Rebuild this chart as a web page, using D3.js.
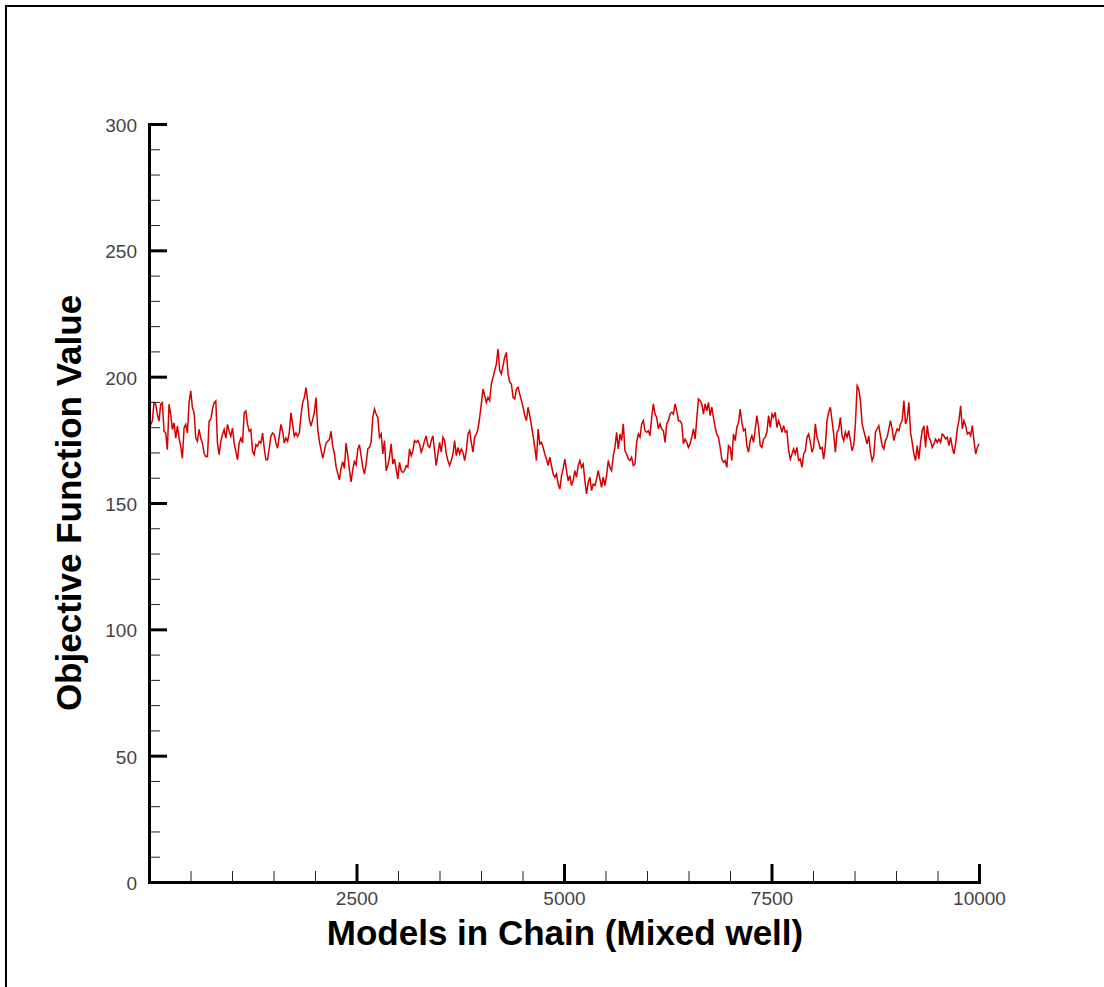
<!DOCTYPE html>
<html>
<head>
<meta charset="utf-8">
<script src="https://cdn.jsdelivr.net/npm/d3@7"></script>
<style>
  body { margin: 0; background: #fff; }
  svg { display: block; }
  .tick text { font-family: "Liberation Sans", Arial, sans-serif; font-size: 19px; fill: #444; }
  .axis-title { font-family: "Liberation Sans", Arial, sans-serif; font-size: 35px; font-weight: bold; fill: #000; }
</style>
</head>
<body>
<svg id="chart" width="1104" height="987"></svg>
<script>
// Chain length and axis ticks
const chainLength = 10000;
const xTickValues = [2500, 5000, 7500, 10000];
const yTickValues = [0, 50, 100, 150, 200, 250, 300];
const yDomain = [0, 300];

// Objective function value along the chain, sampled evenly (four stretches)
const objectiveFirst = [174.4,181.1,182.4,189.7,189.1,185.1,182.4,189.1,189.7,178.4,177.7,171.1,189.1,185.1,179.1,181.7,175.7,180.4,175.7,172.4,167.7,179.7,181.1,177.7,189.7,194.4,187.7,185.7,175.7,174.4,179.1,175.7,173.7,169.7,168.4,168.4,182.4,183.1,187.1,189.7,190.4,173.7,169.1,174.4,177.1,179.1,175.7,181.1,178.4,176.4,179.7,173.7,170.4,167.1,173.7,175.7,173.7,185.7,186.4,181.1,178.4,179.1,170.4,169.1,173.1,172.4,174.4,173.7,177.7,171.7,167.1,167.1,171.7,176.4,177.7,177.1,173.7,171.7,176.4,181.1,178.4,173.7,175.7,174.4,177.7,185.7,181.1,176.4,177.7,176.4,177.7,184.4,189.7,191.7,195.7,190.4,183.1,180.4,183.1,185.7,191.7,179.7,174.4,171.1,167.7,170.4,173.7,174.4,175.1,178.4,172.4,169.7,164.4,161.7,159.1,163.7,166.4,163.7,173.7,169.1,163.1,158.4,163.1,166.4,165.1,171.1,173.1];
const objectiveSecond = [168.7,164.1,161.5,165.4,171.4,172.0,174.0,183.9,187.2,185.2,183.9,176.0,177.3,169.4,174.7,162.8,164.8,168.1,173.4,165.4,167.4,163.5,159.5,166.1,162.8,162.1,162.8,164.8,164.1,171.4,168.7,170.7,174.7,174.0,174.7,173.4,170.1,172.0,174.7,176.6,172.7,172.0,174.7,176.6,170.7,164.8,169.4,174.0,170.1,176.0,174.7,169.4,166.8,164.8,166.8,169.4,174.7,168.7,172.0,169.4,171.4,170.1,166.8,170.7,177.3,178.6,174.0,170.1,176.0,177.3,179.3,183.9,189.2,195.1,192.5,189.8,191.8,190.5,197.1,199.7,202.4,205.0,210.9,202.4,201.1,204.4,207.7,209.6,201.1,197.8,197.1,191.8,191.2,195.1,195.8,193.1,190.5,187.9,184.6,182.6,187.9,184.6,180.6,176.6,172.0,166.8,179.3,173.4,174.0,172.0,169.4,167.4,164.8,168.1,164.8,161.5,160.2,161.5,157.5,155.5,160.8,163.5,167.4];
const objectiveThird = [162.8,158.8,160.8,156.9,158.8,162.8,160.2,164.8,166.8,164.1,165.4,158.8,153.6,158.2,160.2,154.9,157.5,156.9,159.5,162.8,159.5,156.2,160.2,156.9,160.8,166.8,164.1,162.8,168.7,172.0,178.0,171.4,177.3,174.7,181.3,170.7,169.4,167.4,166.8,168.1,164.8,165.4,174.0,177.3,176.0,181.3,182.6,178.6,178.0,178.6,176.6,183.9,189.2,185.2,183.9,179.3,181.3,179.3,178.6,174.0,181.3,182.6,185.2,185.9,185.2,189.2,186.5,182.6,182.6,181.3,173.4,175.3,174.0,172.0,173.4,176.0,179.3,175.3,183.2,191.2,190.5,189.2,185.2,189.2,186.5,189.8,184.6,187.9,183.9,179.9,177.3,176.0,172.0,167.4,166.1,166.8,164.1,172.7,172.0,166.8,177.3,174.7,179.9,181.9,187.2,181.9,178.6,179.3,172.7,170.1,174.7,176.6,174.0,179.3,184.6,179.9,172.7,172.0,175.3,176.0,178.0,184.6,179.9,185.2,183.9,185.9];
const objectiveFourth = [179.9,182.6,180.6,178.0,180.6,178.0,178.6,170.7,167.4,169.4,171.4,169.4,172.0,166.8,167.4,164.1,169.4,170.7,176.0,177.3,174.0,170.1,172.0,181.3,176.0,174.0,171.4,172.0,167.4,172.7,182.6,185.9,187.9,182.6,177.3,170.1,178.0,179.3,183.9,176.6,174.7,178.0,176.0,178.6,174.7,170.7,172.7,181.3,196.4,195.1,190.5,181.3,178.6,176.0,173.4,176.6,170.1,166.8,168.7,178.0,179.3,180.6,176.6,172.7,171.4,174.7,176.0,179.3,182.6,179.3,174.7,177.3,179.3,178.6,181.3,182.6,190.5,181.3,183.2,189.8,178.0,174.0,169.4,166.8,172.7,167.4,174.0,178.6,180.6,172.0,180.6,176.0,174.7,172.0,173.4,175.3,174.0,175.3,174.0,177.3,176.6,175.3,176.0,172.7,176.0,172.0,169.4,173.4,179.3,182.6,188.5,179.3,182.6,180.6,177.3,178.0,176.6,180.6,174.7,169.4,172.0,173.4];

const objective = [].concat(objectiveFirst, objectiveSecond, objectiveThird, objectiveFourth);
const modelIndex = objective.map((_, i) => i * chainLength / (objective.length - 1));

const svg = d3.select("#chart");

// outer frame of the page
svg.append("rect")
  .attr("x", 6).attr("y", 6)
  .attr("width", 1300).attr("height", 1200)
  .attr("fill", "none").attr("stroke", "#000").attr("stroke-width", 2);

const x = d3.scaleLinear().domain([0, chainLength]).range([149, 979]);
const y = d3.scaleLinear().domain(yDomain).range([882, 124]);

// trace of the chain
const line = d3.line()
  .x((d, i) => x(modelIndex[i]))
  .y(d => y(d));

svg.append("path")
  .datum(objective)
  .attr("d", line)
  .attr("fill", "none")
  .attr("stroke", "#d40000")
  .attr("stroke-width", 1.5)
  .attr("stroke-linejoin", "miter");

// minor ticks (inward)
const yMinor = d3.range(0, 301, 10).filter(v => v % 50 !== 0);
const xMinor = d3.range(0, chainLength + 1, 500).filter(v => v % 2500 !== 0);

svg.append("g")
  .attr("transform", "translate(149,0)")
  .call(d3.axisLeft(y).tickValues(yMinor).tickSizeInner(-11).tickSizeOuter(0).tickFormat(""))
  .call(g => g.select(".domain").remove())
  .call(g => g.selectAll(".tick line").attr("stroke", "#222").attr("stroke-width", 1));

svg.append("g")
  .attr("transform", "translate(0,882)")
  .call(d3.axisBottom(x).tickValues(xMinor).tickSizeInner(-11).tickSizeOuter(0).tickFormat(""))
  .call(g => g.select(".domain").remove())
  .call(g => g.selectAll(".tick line").attr("stroke", "#222").attr("stroke-width", 1));

// major axes
svg.append("g")
  .attr("transform", "translate(149,0)")
  .call(d3.axisLeft(y).tickValues(yTickValues).tickFormat(d3.format("d")).tickSizeInner(-18).tickSizeOuter(0).tickPadding(12))
  .call(g => g.select(".domain").attr("stroke", "#000").attr("stroke-width", 3).attr("stroke-linecap", "square"))
  .call(g => g.selectAll(".tick line").attr("stroke", "#000").attr("stroke-width", 3))
  .call(g => g.selectAll(".tick text").attr("dy", "0.40em"))
  .call(g => g.attr("font-family", null).attr("font-size", null));

svg.append("g")
  .attr("transform", "translate(0,882)")
  .call(d3.axisBottom(x).tickValues(xTickValues).tickFormat(d3.format("d")).tickSizeInner(-18).tickSizeOuter(0).tickPadding(10))
  .call(g => g.select(".domain").attr("stroke", "#000").attr("stroke-width", 3).attr("stroke-linecap", "square"))
  .call(g => g.selectAll(".tick line").attr("stroke", "#000").attr("stroke-width", 3))
  .call(g => g.attr("font-family", null).attr("font-size", null));

// axis titles
svg.append("text")
  .attr("class", "axis-title")
  .attr("x", 565).attr("y", 945)
  .attr("text-anchor", "middle")
  .text("Models in Chain (Mixed well)");

svg.append("text")
  .attr("class", "axis-title")
  .attr("transform", "translate(81,503) rotate(-90)")
  .attr("text-anchor", "middle")
  .text("Objective Function Value");
</script>
</body>
</html>
